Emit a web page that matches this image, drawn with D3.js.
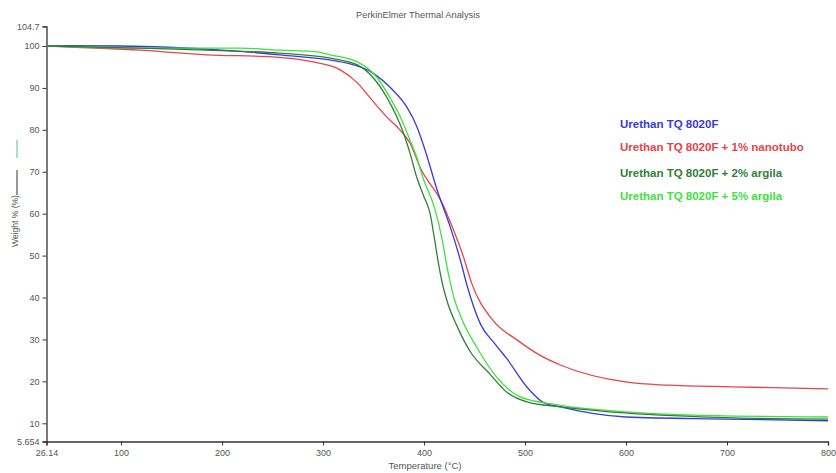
<!DOCTYPE html>
<html>
<head>
<meta charset="utf-8">
<script src="https://cdn.jsdelivr.net/npm/d3@7"></script>
<style>
  html, body { margin: 0; padding: 0; background: #fff; }
  svg { display: block; font-family: "Liberation Sans", Arial, sans-serif; }
</style>
</head>
<body>
<svg id="chart" width="836" height="473"></svg>
<script>
// ---------- data ----------
const xTickValues = [26.14, 100, 200, 300, 400, 500, 600, 700, 800];
const yTickValues = [5.654, 10, 20, 30, 40, 50, 60, 70, 80, 90, 100, 104.7];
const seriesNames = [
  "Urethan TQ 8020F",
  "Urethan TQ 8020F + 1% nanotubo",
  "Urethan TQ 8020F + 2% argila",
  "Urethan TQ 8020F + 5% argila"
];
const seriesColors = ["#3a3ad8", "#e8424a", "#2f7f3a", "#3fe03f"];

const blueT = [26.14, 100, 200, 257, 324, 349, 369, 383, 393, 401, 413, 426, 436, 443, 456, 470, 482, 502, 518, 535, 600, 700, 800];
const blueW = [100.1, 100.0, 99.0, 97.9, 95.9, 93.6, 89.5, 85.4, 80.7, 75.2, 65.6, 56.8, 48.9, 42.5, 33.6, 29.0, 25.4, 18.6, 15.0, 13.9, 11.5, 11.0, 10.6];

const redT = [26.14, 119, 185, 250, 290, 317, 334, 346, 363, 376, 386, 396, 418, 428, 439, 447, 468, 492, 515, 535, 601, 641, 706, 800];
const redW = [100.0, 99.0, 97.9, 97.4, 96.2, 94.3, 91.2, 87.8, 83.1, 80.0, 76.9, 71.1, 62.5, 56.8, 49.7, 43.5, 34.6, 29.9, 26.2, 23.9, 19.8, 19.1, 18.7, 18.2];

const dkGreenT = [26.14, 119, 185, 257, 307, 334, 349, 363, 373, 381, 386, 393, 400, 406, 410, 414, 418, 423, 433, 446, 465, 482, 502, 535, 601, 706, 800];
const dkGreenW = [100.0, 99.5, 99.0, 98.3, 97.1, 95.5, 92.6, 87.8, 83.1, 78.3, 74.5, 68.5, 64.0, 60.0, 54.5, 48.5, 43.5, 39.0, 33.0, 27.0, 21.8, 17.4, 15.1, 13.9, 12.4, 11.3, 11.0];

const ltGreenT = [26.14, 119, 218, 257, 294, 307, 334, 353, 366, 378, 386, 392, 399, 411, 418, 423, 429, 439, 452, 472, 495, 532, 601, 706, 800];
const ltGreenW = [100.0, 99.5, 99.5, 99.0, 98.6, 97.9, 96.2, 92.6, 87.8, 82.3, 77.6, 74.0, 68.5, 60.9, 53.7, 47.0, 40.5, 34.0, 28.2, 21.0, 16.3, 14.4, 12.7, 11.7, 11.5];

const seriesT = [blueT, redT, dkGreenT, ltGreenT];
const seriesW = [blueW, redW, dkGreenW, ltGreenW];

// ---------- layout ----------
const svg = d3.select("#chart");
const x = d3.scaleLinear().domain([26.14, 800]).range([46.5, 828]);
const y = d3.scaleLinear().domain([5.654, 104.7]).range([441.5, 26.3]);
const axisColor = "#333";
const textColor = "#555";

// title
svg.append("text").attr("x", 418).attr("y", 18).attr("text-anchor", "middle")
  .attr("font-size", 9.3).attr("fill", textColor).text("PerkinElmer Thermal Analysis");

// axes
const xAxis = svg.append("g").attr("transform", `translate(0,${y(5.654)})`)
  .call(d3.axisBottom(x).tickValues(xTickValues).tickSize(4).tickPadding(4)
    .tickFormat(d => d === 26.14 ? "26.14" : d3.format("d")(d)));
const yAxis = svg.append("g").attr("transform", `translate(${x(26.14)},0)`)
  .call(d3.axisLeft(y).tickValues(yTickValues).tickSize(4).tickPadding(3)
    .tickFormat(d => (d === 5.654 || d === 104.7) ? String(d) : d3.format("d")(d)));
[xAxis, yAxis].forEach(g => {
  g.select(".domain").attr("stroke", axisColor).attr("stroke-width", 1.3);
  g.selectAll(".tick line").attr("stroke", axisColor);
  g.selectAll(".tick text").attr("fill", textColor).attr("font-size", 9)
    .attr("font-family", "'Liberation Sans', Arial, sans-serif");
});

// axis labels
svg.append("text").attr("x", 425).attr("y", 469).attr("text-anchor", "middle")
  .attr("font-size", 9.5).attr("fill", textColor).text("Temperature (°C)");
svg.append("text").attr("transform", "translate(18,221) rotate(-90)").attr("text-anchor", "middle")
  .attr("font-size", 8.5).attr("fill", textColor).text("Weight % (%)");
svg.append("line").attr("x1", 17).attr("x2", 17).attr("y1", 140).attr("y2", 158)
  .attr("stroke", "#4fc0a0").attr("stroke-width", 1);
svg.append("line").attr("x1", 17).attr("x2", 17).attr("y1", 170).attr("y2", 195)
  .attr("stroke", "#333").attr("stroke-width", 1);

// curves
const line = d3.line().x(d => x(d[0])).y(d => y(d[1])).curve(d3.curveMonotoneX);
const drawOrder = [1, 0, 3, 2];
drawOrder.forEach(i => {
  const pts = seriesT[i].map((t, k) => [t, seriesW[i][k]]);
  svg.append("path").datum(pts).attr("d", line).attr("fill", "none")
    .attr("stroke", seriesColors[i]).attr("stroke-width", 1.3);
});

// legend
const legendY = [128, 151, 177, 200];
seriesNames.forEach((name, i) => {
  svg.append("text").attr("x", 620).attr("y", legendY[i])
    .attr("font-size", 11.5).attr("font-weight", "bold")
    .attr("fill", seriesColors[i]).text(name);
});
</script>
</body>
</html>
